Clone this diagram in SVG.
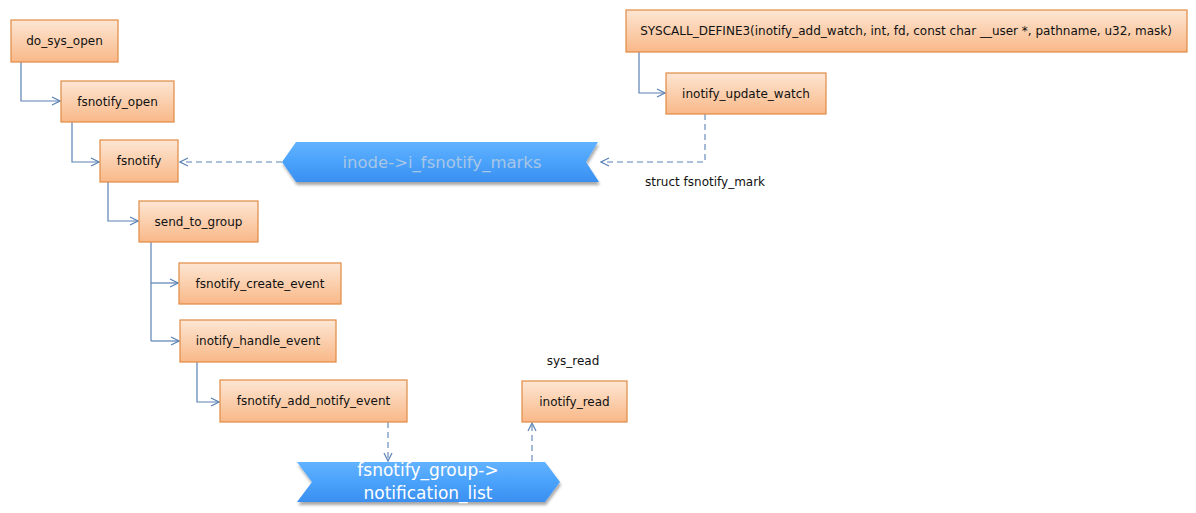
<svg xmlns="http://www.w3.org/2000/svg" width="1196" height="513" viewBox="0 0 1196 513">
<defs>
<linearGradient id="og" x1="0" y1="0" x2="0" y2="1">
<stop offset="0" stop-color="#fde6d3"/>
<stop offset="1" stop-color="#f9b888"/>
</linearGradient>
<linearGradient id="bg" x1="0" y1="0" x2="0" y2="1">
<stop offset="0" stop-color="#62b2ff"/>
<stop offset="0.5" stop-color="#4aa2fb"/>
<stop offset="1" stop-color="#3a8ff0"/>
</linearGradient>
<filter id="sh" x="-10%" y="-30%" width="120%" height="180%">
<feGaussianBlur in="SourceAlpha" stdDeviation="1.5"/>
<feOffset dx="1" dy="3" result="b"/>
<feComponentTransfer><feFuncA type="linear" slope="0.35"/></feComponentTransfer>
<feMerge><feMergeNode/><feMergeNode in="SourceGraphic"/></feMerge>
</filter>
<marker id="ar" viewBox="0 0 10 10" refX="9" refY="5" markerWidth="10" markerHeight="10" markerUnits="userSpaceOnUse" orient="auto">
<path d="M1,1 L9,5 L1,9" fill="none" stroke="#5b82b4" stroke-width="1.2"/>
</marker>
</defs>
<style>
.box{fill:url(#og);stroke:#e08a43;stroke-width:1.2}
.t{font-family:"DejaVu Sans","Liberation Sans",sans-serif;font-size:12px;fill:#111;text-anchor:middle;dominant-baseline:central}
.c{fill:none;stroke:#5b82b4;stroke-width:1.2}
.d{fill:none;stroke:#5b82b4;stroke-width:1.1;stroke-dasharray:6 4}
.bn{fill:url(#bg);filter:url(#sh)}
.bt{font-family:"DejaVu Sans","Liberation Sans",sans-serif;text-anchor:middle;dominant-baseline:central}
</style>
<rect width="1196" height="513" fill="#ffffff"/>
<g id="connectors">
<path class="c" d="M21,62 V101 H60" marker-end="url(#ar)"/>
<path class="c" d="M72,122 V162 H99" marker-end="url(#ar)"/>
<path class="c" d="M108,182 V221 H138" marker-end="url(#ar)"/>
<path class="c" d="M151,242 V341"/>
<path class="c" d="M151,283 H178" marker-end="url(#ar)"/>
<path class="c" d="M151,341 H179" marker-end="url(#ar)"/>
<path class="c" d="M197,362 V402 H219" marker-end="url(#ar)"/>
<path class="c" d="M639,52 V93 H665" marker-end="url(#ar)"/>
<path class="d" d="M282,162 H180" marker-end="url(#ar)"/>
<path class="d" d="M705,114 V162 H601" marker-end="url(#ar)"/>
<path class="d" d="M388,422 V461" marker-end="url(#ar)"/>
<path class="d" d="M532,461 V423" marker-end="url(#ar)"/>
</g>
<g id="do_sys_open"><rect class="box" x="11" y="20" width="107" height="42"/><text class="t" x="64.5" y="41">do_sys_open</text></g>
<g id="fsnotify_open"><rect class="box" x="61" y="81" width="113" height="41"/><text class="t" x="117.5" y="101.5">fsnotify_open</text></g>
<g id="fsnotify"><rect class="box" x="100" y="140" width="78" height="42"/><text class="t" x="139" y="161">fsnotify</text></g>
<g id="send_to_group"><rect class="box" x="139" y="201" width="119" height="41"/><text class="t" x="198.5" y="221.5">send_to_group</text></g>
<g id="fsnotify_create_event"><rect class="box" x="179" y="263" width="162" height="41"/><text class="t" x="260" y="283.5">fsnotify_create_event</text></g>
<g id="inotify_handle_event"><rect class="box" x="180" y="320" width="156" height="42"/><text class="t" x="258" y="341">inotify_handle_event</text></g>
<g id="fsnotify_add_notify_event"><rect class="box" x="220" y="380" width="187" height="42"/><text class="t" x="313.5" y="401">fsnotify_add_notify_event</text></g>
<g id="syscall_define3"><rect class="box" x="626" y="10" width="561" height="42"/><text class="t" x="906" y="31">SYSCALL_DEFINE3(inotify_add_watch, int, fd, const char __user *, pathname, u32, mask)</text></g>
<g id="inotify_update_watch"><rect class="box" x="666" y="73" width="160" height="41"/><text class="t" x="746" y="93.5">inotify_update_watch</text></g>
<g id="inotify_read"><rect class="box" x="522" y="381" width="105" height="41"/><text class="t" x="574.5" y="401.5">inotify_read</text></g>
<g id="inode_marks">
<path class="bn" d="M282,162 L296,142 L598,142 L586,162 L599,182 L296,182 Z"/>
<text class="bt" x="442" y="162" font-size="16.5" fill="#a8c6e6">inode-&gt;i_fsnotify_marks</text>
</g>
<g id="notification_list">
<path class="bn" d="M297,462 L545,462 L560,482 L545,502 L297,502 L312,482 Z"/>
<text class="bt" x="428" y="470" font-size="17" fill="#ffffff">fsnotify_group-&gt;</text>
<text class="bt" x="428" y="493" font-size="17" fill="#ffffff">notification_list</text>
</g>
<g id="labels">
<text class="t" x="705" y="182">struct fsnotify_mark</text>
<text class="t" x="573" y="361">sys_read</text>
</g>
</svg>
